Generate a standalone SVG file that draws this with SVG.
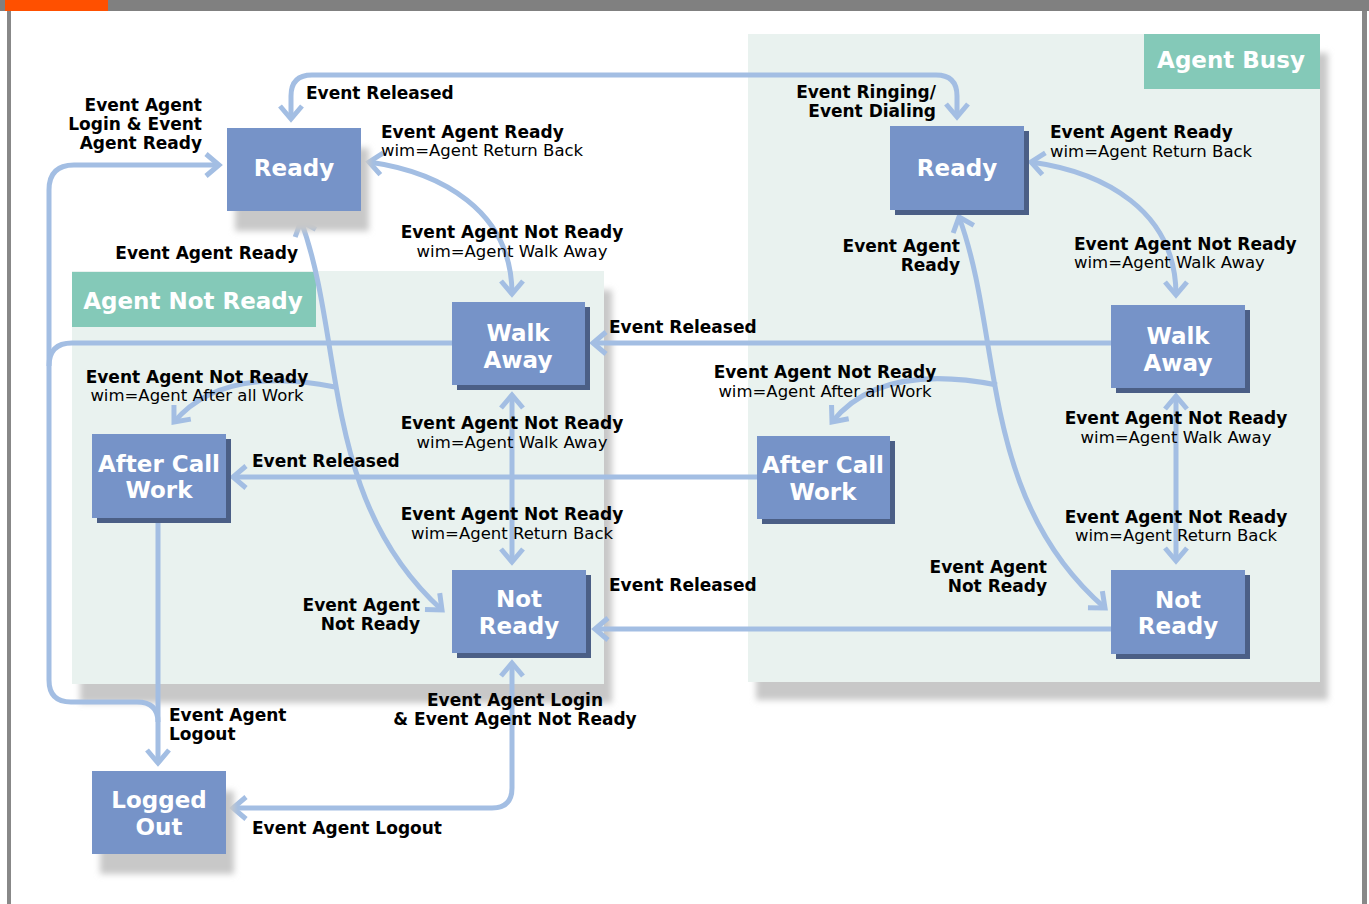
<svg xmlns="http://www.w3.org/2000/svg" width="1369" height="904" viewBox="0 0 1369 904">
  <defs>
    <style>
      .panel { fill: #e9f2ef; }
      .tag { fill: #84c9b8; }
      .tagtxt { font: bold 23px "DejaVu Sans", sans-serif; fill: #ffffff; text-anchor: middle; }
      .node { fill: #7693c8; }
      .dark { fill: #4b5f86; }
      .soft { fill: #c8c8c8; filter: url(#blur); }
      .ntxt { font: bold 23px "DejaVu Sans", sans-serif; fill: #ffffff; text-anchor: middle; }
      .wire { fill: none; stroke: #a3bee3; stroke-width: 5; }
      .b { font: bold 17px "DejaVu Sans", sans-serif; fill: #000000; }
      .r { font: 16.5px "DejaVu Sans", sans-serif; fill: #000000; }
      .mid { text-anchor: middle; }
      .end { text-anchor: end; }
    </style>
    <filter id="blur" x="-10%" y="-10%" width="120%" height="120%">
      <feGaussianBlur stdDeviation="3"/>
    </filter>
    <marker id="ah" markerUnits="userSpaceOnUse" markerWidth="34" markerHeight="34" viewBox="-20 -17 34 34" refX="0" refY="0" orient="auto-start-reverse">
      <path d="M-13,-11 L0,0 L-13,11" fill="none" stroke="#a3bee3" stroke-width="5"/>
    </marker>
  </defs>

  <!-- page frame -->
  <rect x="0" y="0" width="1369" height="904" fill="#ffffff"/>
  <rect x="0" y="0" width="1369" height="11" fill="#808080"/>
  <rect x="5" y="0" width="103" height="11" fill="#ff5000"/>
  <rect x="7" y="11" width="4" height="893" fill="#888888"/>
  <rect x="1362" y="11" width="5" height="893" fill="#888888"/>

  <!-- state groups -->
  <g id="group-not-ready">
    <rect class="soft" x="80" y="290" width="532" height="413"/>
    <rect class="panel" x="72" y="271" width="532" height="413"/>
    <rect class="tag" x="72" y="272" width="244" height="55"/>
    <text class="tagtxt" x="193" y="309">Agent Not Ready</text>
  </g>
  <g id="group-busy">
    <rect class="soft" x="756" y="53" width="572" height="647"/>
    <rect class="panel" x="748" y="34" width="572" height="648"/>
    <rect class="tag" x="1144" y="34" width="176" height="55"/>
    <text class="tagtxt" x="1231" y="68">Agent Busy</text>
  </g>

  <!-- connectors -->
  <g id="connectors">
    <path class="wire" d="M291,119 V96 Q291,75 312,75 H936 Q957,75 957,96 V117" marker-start="url(#ah)" marker-end="url(#ah)"/>
    <path class="wire" d="M158,722 Q158,702 137,702 H71 Q49,702 49,680 V190 Q49,165 74,165 H219" marker-end="url(#ah)"/>
    <path class="wire" d="M452,343 H72 Q49,343 49,366"/>
    <path class="wire" d="M369,162 C440,172 512,210 512,294" marker-start="url(#ah)" marker-end="url(#ah)"/>
    <path class="wire" d="M301,221 C345,340 320,500 442,610" marker-start="url(#ah)" marker-end="url(#ah)"/>
    <path class="wire" d="M335,387 Q222,365 174,422" marker-end="url(#ah)"/>
    <path class="wire" d="M512,395 V562" marker-start="url(#ah)" marker-end="url(#ah)"/>
    <path class="wire" d="M1111,343 H593" marker-end="url(#ah)"/>
    <path class="wire" d="M757,477 H233" marker-end="url(#ah)"/>
    <path class="wire" d="M1111,629 H595" marker-end="url(#ah)"/>
    <path class="wire" d="M158,518 V763" marker-end="url(#ah)"/>
    <path class="wire" d="M233,808 H492 Q512,808 512,788 V663" marker-start="url(#ah)" marker-end="url(#ah)"/>
    <path class="wire" d="M1031,162 C1103,172 1176,210 1176,295" marker-start="url(#ah)" marker-end="url(#ah)"/>
    <path class="wire" d="M959,217 C1003,336 978,498 1105,608" marker-start="url(#ah)" marker-end="url(#ah)"/>
    <path class="wire" d="M997,385 Q880,362 832,422" marker-end="url(#ah)"/>
    <path class="wire" d="M1176,396 V561" marker-start="url(#ah)" marker-end="url(#ah)"/>
  </g>

  <!-- states -->
  <g id="ready-idle">
    <rect class="soft" x="235" y="148" width="134" height="83"/>
    <rect class="node" x="227" y="128" width="134" height="83"/>
    <text class="ntxt" x="294" y="176">Ready</text>
  </g>
  <g id="walk-away-idle">
    <rect class="dark" x="457" y="307" width="133" height="83"/>
    <rect class="node" x="452" y="302" width="133" height="83"/>
    <text class="ntxt" x="518" y="341">Walk</text>
    <text class="ntxt" x="518" y="368">Away</text>
  </g>
  <g id="after-call-work-idle">
    <rect class="dark" x="97" y="439" width="134" height="84"/>
    <rect class="node" x="92" y="434" width="134" height="84"/>
    <text class="ntxt" x="159" y="472">After Call</text>
    <text class="ntxt" x="159" y="498">Work</text>
  </g>
  <g id="not-ready-idle">
    <rect class="dark" x="457" y="575" width="134" height="83"/>
    <rect class="node" x="452" y="570" width="134" height="83"/>
    <text class="ntxt" x="519" y="607">Not</text>
    <text class="ntxt" x="519" y="634">Ready</text>
  </g>
  <g id="logged-out">
    <rect class="soft" x="100" y="791" width="134" height="83"/>
    <rect class="node" x="92" y="771" width="134" height="83"/>
    <text class="ntxt" x="159" y="808">Logged</text>
    <text class="ntxt" x="159" y="835">Out</text>
  </g>
  <g id="ready-busy">
    <rect class="dark" x="895" y="131" width="134" height="84"/>
    <rect class="node" x="890" y="126" width="134" height="84"/>
    <text class="ntxt" x="957" y="176">Ready</text>
  </g>
  <g id="walk-away-busy">
    <rect class="dark" x="1116" y="310" width="134" height="83"/>
    <rect class="node" x="1111" y="305" width="134" height="83"/>
    <text class="ntxt" x="1178" y="344">Walk</text>
    <text class="ntxt" x="1178" y="371">Away</text>
  </g>
  <g id="after-call-work-busy">
    <rect class="dark" x="762" y="441" width="133" height="83"/>
    <rect class="node" x="757" y="436" width="133" height="83"/>
    <text class="ntxt" x="823" y="473">After Call</text>
    <text class="ntxt" x="823" y="500">Work</text>
  </g>
  <g id="not-ready-busy">
    <rect class="dark" x="1116" y="575" width="134" height="84"/>
    <rect class="node" x="1111" y="570" width="134" height="84"/>
    <text class="ntxt" x="1178" y="608">Not</text>
    <text class="ntxt" x="1178" y="634">Ready</text>
  </g>

  <!-- transition labels -->
  <g id="labels">
    <text class="b end" x="202" y="111">Event Agent</text>
    <text class="b end" x="202" y="130">Login &amp; Event</text>
    <text class="b end" x="202" y="149">Agent Ready</text>

    <text class="b" x="306" y="99">Event Released</text>

    <text class="b end" x="936" y="98">Event Ringing/</text>
    <text class="b end" x="936" y="117">Event Dialing</text>

    <text class="b" x="381" y="138">Event Agent Ready</text>
    <text class="r" x="381" y="156">wim=Agent Return Back</text>

    <text class="b mid" x="512" y="238">Event Agent Not Ready</text>
    <text class="r mid" x="512" y="257">wim=Agent Walk Away</text>

    <text class="b end" x="298" y="259">Event Agent Ready</text>

    <text class="b" x="609" y="333">Event Released</text>

    <text class="b mid" x="197" y="383">Event Agent Not Ready</text>
    <text class="r mid" x="197" y="401">wim=Agent After all Work</text>

    <text class="b mid" x="512" y="429">Event Agent Not Ready</text>
    <text class="r mid" x="512" y="448">wim=Agent Walk Away</text>

    <text class="b" x="252" y="467">Event Released</text>

    <text class="b mid" x="512" y="520">Event Agent Not Ready</text>
    <text class="r mid" x="512" y="539">wim=Agent Return Back</text>

    <text class="b" x="609" y="591">Event Released</text>

    <text class="b end" x="420" y="611">Event Agent</text>
    <text class="b end" x="420" y="630">Not Ready</text>

    <text class="b" x="169" y="721">Event Agent</text>
    <text class="b" x="169" y="740">Logout</text>

    <text class="b mid" x="515" y="706">Event Agent Login</text>
    <text class="b mid" x="515" y="725">&amp; Event Agent Not Ready</text>

    <text class="b" x="252" y="834">Event Agent Logout</text>

    <text class="b" x="1050" y="138">Event Agent Ready</text>
    <text class="r" x="1050" y="157">wim=Agent Return Back</text>

    <text class="b" x="1074" y="250">Event Agent Not Ready</text>
    <text class="r" x="1074" y="268">wim=Agent Walk Away</text>

    <text class="b end" x="960" y="252">Event Agent</text>
    <text class="b end" x="960" y="271">Ready</text>

    <text class="b mid" x="825" y="378">Event Agent Not Ready</text>
    <text class="r mid" x="825" y="397">wim=Agent After all Work</text>

    <text class="b mid" x="1176" y="424">Event Agent Not Ready</text>
    <text class="r mid" x="1176" y="443">wim=Agent Walk Away</text>

    <text class="b mid" x="1176" y="523">Event Agent Not Ready</text>
    <text class="r mid" x="1176" y="541">wim=Agent Return Back</text>

    <text class="b end" x="1047" y="573">Event Agent</text>
    <text class="b end" x="1047" y="592">Not Ready</text>
  </g>
</svg>
